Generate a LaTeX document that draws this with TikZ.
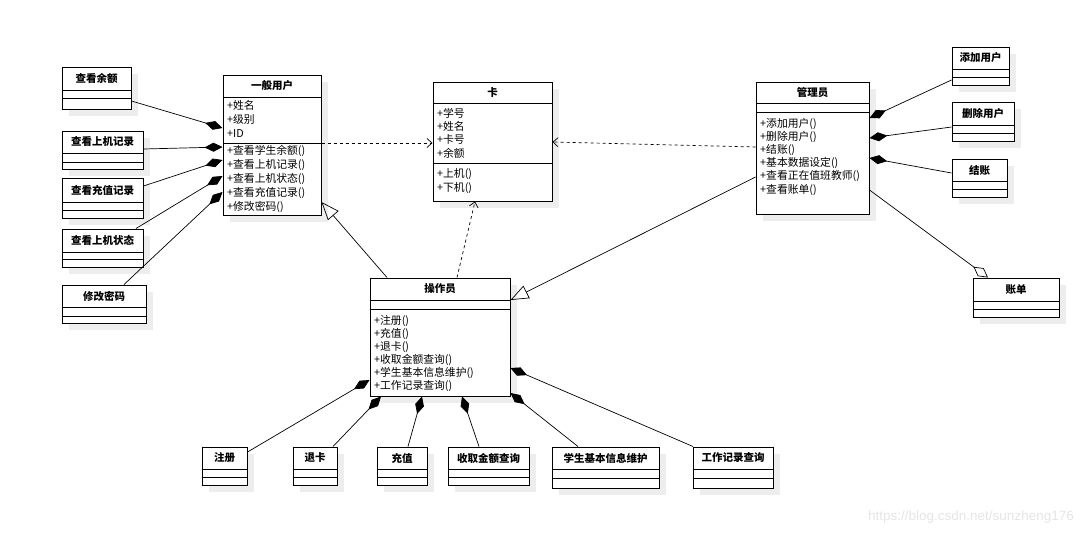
\documentclass[tikz,border=0pt]{standalone}
\usepackage{fontspec}
\setmainfont{Noto Sans CJK SC}
\newfontfamily\wmfont{Liberation Sans}
\usepackage{tikz}
\usetikzlibrary{arrows.meta}

% class box: name, left, top, right, bottom, first rule, second rule, title
\newcommand{\umlclass}[8]{%
  \fill[shade box] ({#2+7},{#3+7}) rectangle ({#4+7},{#5+7});
  \node[class box, minimum width={#4-#2}, minimum height={#5-#3}] (#1) at ({(#2+#4)/2},{(#3+#5)/2}) {};
  \draw[class line] (#1.west |- 0,#6) -- (#1.east |- 0,#6);
  \draw[class line] (#1.west |- 0,#7) -- (#1.east |- 0,#7);
  \node[class title] (#1-title) at ({(#2+#4)/2},{(#3+#6)/2}) {#8};
}

\begin{document}
\begin{tikzpicture}[x=1pt, y=-1pt,
  shade box/.style={fill=black!7},
  class box/.style={draw, line width=1pt, fill=white, inner sep=0},
  class line/.style={line width=1pt},
  class title/.style={font=\fontsize{10.5}{12}\selectfont\bfseries, inner sep=0},
  item/.style={font=\fontsize{10.8}{13}\selectfont, inner sep=0, anchor=base west},
  comp/.style={line width=0.7pt, -{Diamond[length=18pt, width=9pt]}},
  agg/.style={line width=0.7pt, -{Diamond[open, length=18pt, width=10pt]}},
  gen/.style={line width=0.7pt, -{Triangle[open, length=18pt, width=14pt]}},
  dep/.style={line width=0.7pt, dash pattern=on 3pt off 3pt, -{Straight Barb[length=5pt, width=9pt]}},
  watermark/.style={font=\wmfont\fontsize{13.5}{16}\selectfont, text=black!10, inner sep=0}]
\useasboundingbox (0,0) rectangle (1084,536);
% main classes
\umlclass{user}{223}{75}{321}{215}{97}{143}{一般用户}
\umlclass{card}{433}{82}{552}{201}{103}{163}{卡}
\umlclass{admin}{756}{82}{869}{214}{103}{112}{管理员}
\umlclass{oper}{370}{278}{510}{396}{300}{309}{操作员}
% left classes
\umlclass{yue}{62}{67}{131}{109}{90}{98}{查看余额}
\umlclass{sjjl}{62}{131}{143}{169}{153}{162}{查看上机记录}
\umlclass{czjl}{62}{178}{143}{218}{202}{210}{查看充值记录}
\umlclass{sjzt}{62}{229}{143}{267}{252}{259}{查看上机状态}
\umlclass{xgmm}{62}{285}{146}{323}{307}{316}{修改密码}
% right classes
\umlclass{tjyh}{952}{47}{1009}{85}{69}{77}{添加用户}
\umlclass{scyh}{952}{102}{1014}{141}{125}{133}{删除用户}
\umlclass{jz}{952}{159}{1007}{197}{181}{189}{结账}
\umlclass{zd}{973}{278}{1059}{317}{301}{309}{账单}
% bottom classes
\umlclass{zc}{202}{447}{247}{485}{469}{477}{注册}
\umlclass{tk}{293}{447}{337}{485}{469}{477}{退卡}
\umlclass{cz}{377}{447}{427}{485}{469}{477}{充值}
\umlclass{sqje}{448}{447}{529}{485}{469}{477}{收取金额查询}
\umlclass{xswh}{552}{447}{659}{488}{469}{478}{学生基本信息维护}
\umlclass{gzjl}{693}{447}{773}{488}{469}{478}{工作记录查询}
% members
\foreach \txt [count=\i] in {+姓名,+级别,+ID}
  \node[item] (user-a\i) at (227,{95+14*\i}) {\txt};
\foreach \txt [count=\i] in {+查看学生余额(),+查看上机记录(),+查看上机状态(),+查看充值记录(),+修改密码()}
  \node[item] (user-o\i) at (227,{140+14*\i}) {\txt};
\foreach \txt [count=\i] in {+学号,+姓名,+卡号,+余额}
  \node[item] (card-a\i) at (437,{103.7+13.33*\i}) {\txt};
\foreach \txt [count=\i] in {+上机(),+下机()}
  \node[item] (card-o\i) at (437,{163+14*\i}) {\txt};
\foreach \txt [count=\i] in {+添加用户(),+删除用户(),+结账(),+基本数据设定(),+查看正在值班教师(),+查看账单()}
  \node[item] (admin-o\i) at (760,{113.8+13.2*\i}) {\txt};
\foreach \txt [count=\i] in {+注册(),+充值(),+退卡(),+收取金额查询(),+学生基本信息维护(),+工作记录查询()}
  \node[item] (oper-o\i) at (374,{311+13*\i}) {\txt};
% compositions
\draw[comp] (yue.east |- 0,101) -- (user.west |- 0,128);
\draw[comp] (sjjl.east |- 0,149) -- (user.west |- 0,147);
\draw[comp] (czjl.east |- 0,186) -- (user.west |- 0,160);
\draw[comp] (sjzt.north -| 136,0) -- (user.west |- 0,176);
\draw[comp] (xgmm.north -| 124,0) -- (user.west |- 0,192);
\draw[comp] (tjyh.west |- 0,80) -- (admin.east |- 0,118);
\draw[comp] (scyh.west |- 0,127) -- (admin.east |- 0,138);
\draw[comp] (jz.west |- 0,173) -- (admin.east |- 0,158);
\draw[agg] (admin.east |- 0,190) -- (zd.north -| 988,0);
\draw[comp] (zc.east |- 0,452) -- (oper.west |- 0,380);
\draw[comp] (tk.north -| 333,0) -- (oper.south -| 381,0);
\draw[comp] (cz.north -| 408,0) -- (oper.south -| 422,0);
\draw[comp] (sqje.north -| 479,0) -- (oper.south -| 462,0);
\draw[comp] (xswh.north -| 578,0) -- (oper.east |- 0,393);
\draw[comp] (gzjl.north -| 693,0) -- (oper.east |- 0,368);
% generalizations
\draw[gen] (oper.north -| 387,0) -- (user.east |- 0,202);
\draw[gen] (admin.west |- 0,177) -- (oper.east |- 0,300);
% dependencies
\draw[dep] (user.east |- 0,143) -- (card.west |- 0,143);
\draw[dep] (admin.west |- 0,147) -- (card.east |- 0,142);
\draw[dep] (oper.north -| 457,0) -- (card.south -| 475,0);
% watermark
\node[watermark, anchor=east] (wm) at (1074,517) {https://blog.csdn.net/sunzheng176};
\end{tikzpicture}
\end{document}
